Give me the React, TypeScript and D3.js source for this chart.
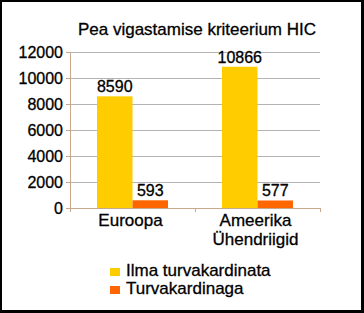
import React from "react";
import * as d3 from "d3";

const categories: string[][] = [["Euroopa"], ["Ameerika", "Ühendriigid"]];
const seriesNames = ["Ilma turvakardinata", "Turvakardinaga"];
const seriesColors = ["#FFCC00", "#FF6600"];
const withoutCurtain = [8590, 10866];
const withCurtain = [593, 577];
const yTicks = [0, 2000, 4000, 6000, 8000, 10000, 12000];
const title = "Pea vigastamise kriteerium HIC";

const W = 364;
const H = 313;
const plotLeft = 70;
const plotRight = 320;
const plotTop = 52;
const plotBottom = 208;
const font = "'Liberation Sans', Arial, sans-serif";
const textStroke = { stroke: "#000", strokeWidth: 0.3 };

export default function App() {
  const y = d3.scaleLinear().domain([0, 12000]).range([plotBottom, plotTop]);
  const x = d3
    .scaleBand<number>()
    .domain(categories.map((_, i) => i))
    .range([plotLeft, plotRight])
    .paddingInner(0)
    .paddingOuter(0);
  const groupW = 71;
  const inner = d3
    .scaleBand<number>()
    .domain([0, 1])
    .range([0, groupW])
    .padding(0);
  const series = [withoutCurtain, withCurtain];

  return (
    <svg
      width={W}
      height={H}
      style={{ position: "fixed", left: 0, top: 0, fontFamily: font }}
    >
      <rect x={0} y={0} width={W} height={H} fill="#000" />
      <rect x={2} y={2} width={359} height={308} fill="#fff" />
      <text x={197} y={35} textAnchor="middle" fontSize={17} fill="#000" {...textStroke}>
        {title}
      </text>
      {yTicks.map((t) => (
        <g key={t}>
          {t > 0 && (
            <line
              x1={plotLeft}
              x2={plotRight}
              y1={y(t) + 0.5}
              y2={y(t) + 0.5}
              stroke="#b4b4b4"
              strokeWidth={1}
            />
          )}
          <line
            x1={plotLeft - 4}
            x2={plotLeft}
            y1={y(t) + 0.5}
            y2={y(t) + 0.5}
            stroke="#c8a88c"
          />
          <text
            x={63}
            y={y(t)}
            dy="0.36em"
            textAnchor="end"
            fontSize={16}
            fill="#000"
            {...textStroke}
          >
            {t}
          </text>
        </g>
      ))}
      {series.map((vals, si) =>
        vals.map((v, ci) => {
          const bx = x(ci)! + (x.bandwidth() - groupW) / 2 + inner(si)!;
          return (
            <g key={`${si}-${ci}`}>
              <rect
                x={bx}
                y={y(v)}
                width={inner.bandwidth()}
                height={plotBottom - y(v)}
                fill={seriesColors[si]}
              />
              <text
                x={bx + inner.bandwidth() / 2}
                y={y(v) - 4}
                textAnchor="middle"
                fontSize={16}
                fill="#000"
                {...textStroke}
              >
                {v}
              </text>
            </g>
          );
        })
      )}
      <line
        x1={plotLeft + 0.5}
        x2={plotLeft + 0.5}
        y1={plotTop}
        y2={plotBottom}
        stroke="#c8a88c"
      />
      <line
        x1={plotLeft}
        x2={plotRight}
        y1={plotBottom + 0.5}
        y2={plotBottom + 0.5}
        stroke="#c8a88c"
      />
      {[0, 1, 2].map((i) => {
        const tx = plotLeft + i * x.step();
        return (
          <line
            key={i}
            x1={tx + 0.5}
            x2={tx + 0.5}
            y1={plotBottom}
            y2={plotBottom + 4}
            stroke="#c8a88c"
          />
        );
      })}
      {categories.map((lines, ci) =>
        lines.map((l, li) => (
          <text
            key={`${ci}-${li}`}
            x={x(ci)! + x.bandwidth() / 2 - 2}
            y={226 + li * 19}
            textAnchor="middle"
            fontSize={17}
            fill="#000"
            {...textStroke}
          >
            {l}
          </text>
        ))
      )}
      {seriesNames.map((n, i) => (
        <g key={n} transform={`translate(110, ${268 + i * 18})`}>
          <rect x={0} y={0} width={10} height={8} fill={seriesColors[i]} />
          <text x={16} y={8} fontSize={17} fill="#000" {...textStroke}>
            {n}
          </text>
        </g>
      ))}
    </svg>
  );
}
